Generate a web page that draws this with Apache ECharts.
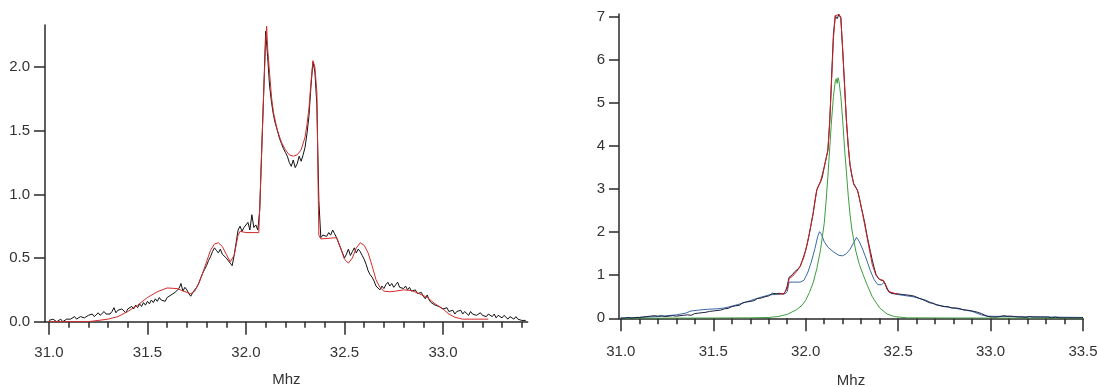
<!DOCTYPE html>
<html>
<head>
<meta charset="utf-8">
<script src="https://cdn.jsdelivr.net/npm/echarts@6/dist/echarts.min.js"></script>
<style>html,body{margin:0;padding:0;background:#fff}#c{width:1097px;height:387px}</style>
</head>
<body>
<div id="c"></div>
<script>
// ---- tick labels ----
const leftMajorTicks = [31.0, 31.5, 32.0, 32.5, 33.0];
const leftMinorTicks = [31.1,31.2,31.3,31.4,31.6,31.7,31.8,31.9,32.1,32.2,32.3,32.4,32.6,32.7,32.8,32.9,33.1,33.2,33.3,33.4];
const leftYTicks = [0, 0.5, 1.0, 1.5, 2.0];
const rightMajorTicks = [31.0, 31.5, 32.0, 32.5, 33.0, 33.5];
const rightMinorTicks = [31.1,31.2,31.3,31.4,31.6,31.7,31.8,31.9,32.1,32.2,32.3,32.4,32.6,32.7,32.8,32.9,33.1,33.2,33.3,33.4];
const rightYTicks = [0, 1, 2, 3, 4, 5, 6, 7];

// ---- left panel: measured spectrum (black) ----
const leftMeasured = [
[31.00,0.01],[31.01,0.00],[31.02,0.02],[31.03,0.01],[31.04,0.00],[31.05,0.01],[31.06,0.02],[31.07,0.00],[31.08,0.01],[31.09,0.02],
[31.10,0.03],[31.11,0.02],[31.12,0.03],[31.13,0.04],[31.14,0.02],[31.15,0.03],[31.16,0.04],[31.17,0.05],[31.18,0.03],[31.19,0.04],
[31.20,0.05],[31.21,0.04],[31.22,0.06],[31.23,0.04],[31.24,0.05],[31.25,0.07],[31.26,0.05],[31.27,0.06],[31.28,0.08],[31.29,0.06],
[31.30,0.07],[31.31,0.06],[31.32,0.08],[31.33,0.11],[31.34,0.07],[31.35,0.09],[31.36,0.08],[31.37,0.10],[31.38,0.09],[31.39,0.07],
[31.40,0.10],[31.41,0.09],[31.42,0.12],[31.43,0.10],[31.44,0.13],[31.45,0.11],[31.46,0.14],[31.47,0.12],[31.48,0.15],[31.49,0.13],
[31.50,0.16],[31.51,0.14],[31.52,0.17],[31.53,0.15],[31.54,0.18],[31.55,0.16],[31.56,0.19],[31.57,0.17],[31.58,0.18],[31.59,0.16],
[31.60,0.19],[31.61,0.18],[31.62,0.21],[31.63,0.20],[31.64,0.23],[31.65,0.22],[31.66,0.26],[31.67,0.30],[31.68,0.24],[31.69,0.27],
[31.70,0.25],[31.71,0.22],[31.72,0.20],[31.73,0.23],[31.74,0.22],[31.75,0.27],[31.76,0.30],[31.77,0.34],[31.78,0.38],[31.79,0.41],
[31.80,0.44],[31.81,0.48],[31.82,0.51],[31.83,0.55],[31.84,0.58],[31.85,0.56],[31.86,0.54],[31.87,0.57],[31.88,0.53],[31.89,0.52],
[31.90,0.50],[31.91,0.48],[31.92,0.46],[31.93,0.44],[31.94,0.52],[31.95,0.62],[31.96,0.72],[31.97,0.75],[31.98,0.71],[31.99,0.74],
[32.00,0.73],[32.01,0.78],[32.02,0.72],[32.03,0.84],[32.04,0.74],[32.05,0.76],[32.06,0.72],[32.07,0.88],[32.08,1.35],[32.09,1.80],
[32.10,2.28],[32.11,2.08],[32.12,1.85],[32.13,1.72],[32.14,1.62],[32.15,1.55],[32.16,1.50],[32.17,1.44],[32.18,1.40],[32.19,1.36],
[32.20,1.33],[32.21,1.30],[32.22,1.25],[32.23,1.22],[32.24,1.27],[32.25,1.21],[32.26,1.24],[32.27,1.30],[32.28,1.26],[32.29,1.31],
[32.30,1.37],[32.31,1.48],[32.32,1.62],[32.33,1.85],[32.34,2.04],[32.35,1.96],[32.36,1.70],[32.37,0.95],[32.38,0.66],[32.39,0.68],
[32.40,0.69],[32.41,0.67],[32.42,0.70],[32.43,0.68],[32.44,0.72],[32.45,0.69],[32.46,0.66],[32.47,0.62],[32.48,0.58],[32.49,0.54],
[32.50,0.50],[32.51,0.53],[32.52,0.57],[32.53,0.52],[32.54,0.55],[32.55,0.58],[32.56,0.54],[32.57,0.57],[32.58,0.55],[32.59,0.52],
[32.60,0.49],[32.61,0.45],[32.62,0.40],[32.63,0.37],[32.64,0.35],[32.65,0.32],[32.66,0.28],[32.67,0.27],[32.68,0.25],[32.69,0.28],
[32.70,0.26],[32.71,0.29],[32.72,0.31],[32.73,0.28],[32.74,0.30],[32.75,0.27],[32.76,0.29],[32.77,0.31],[32.78,0.27],[32.79,0.28],
[32.80,0.26],[32.81,0.28],[32.82,0.25],[32.83,0.27],[32.84,0.24],[32.85,0.23],[32.86,0.25],[32.87,0.22],[32.88,0.21],[32.89,0.23],
[32.90,0.20],[32.91,0.18],[32.92,0.21],[32.93,0.17],[32.94,0.15],[32.95,0.16],[32.96,0.13],[32.97,0.14],[32.98,0.12],[32.99,0.11],
[33.00,0.10],[33.01,0.09],[33.02,0.11],[33.03,0.08],[33.04,0.07],[33.05,0.09],[33.06,0.06],[33.07,0.08],[33.08,0.07],[33.09,0.09],
[33.10,0.06],[33.11,0.08],[33.12,0.07],[33.13,0.05],[33.14,0.08],[33.15,0.06],[33.16,0.07],[33.17,0.05],[33.18,0.06],[33.19,0.07],
[33.20,0.05],[33.21,0.06],[33.22,0.04],[33.23,0.06],[33.24,0.05],[33.25,0.04],[33.26,0.06],[33.27,0.03],[33.28,0.05],[33.29,0.04],
[33.30,0.03],[33.31,0.05],[33.32,0.04],[33.33,0.02],[33.34,0.04],[33.35,0.03],[33.36,0.02],[33.37,0.04],[33.38,0.02],[33.39,0.03],
[33.40,0.01],[33.41,0.02],[33.42,0.01]
];

// ---- left panel: simulated fit (red) ----
const leftFit = [
[31.00,0.00],[31.20,0.00],[31.25,0.01],[31.30,0.02],[31.35,0.04],[31.40,0.08],[31.45,0.13],[31.50,0.19],[31.55,0.235],[31.60,0.265],
[31.65,0.26],[31.70,0.23],[31.72,0.22],[31.74,0.24],[31.76,0.30],[31.78,0.38],[31.80,0.47],[31.82,0.56],[31.84,0.61],[31.86,0.62],
[31.88,0.59],[31.90,0.53],[31.92,0.47],[31.93,0.46],[31.94,0.52],[31.96,0.68],[31.97,0.71],[32.00,0.70],[32.065,0.70],[32.07,0.90],
[32.08,1.35],[32.09,1.80],[32.10,2.20],[32.105,2.32],[32.11,2.15],[32.12,1.95],[32.13,1.76],[32.14,1.64],[32.16,1.50],[32.18,1.41],
[32.20,1.35],[32.22,1.31],[32.24,1.30],[32.26,1.31],[32.28,1.35],[32.30,1.45],[32.31,1.55],[32.32,1.68],[32.33,1.88],[32.34,2.05],
[32.35,2.00],[32.36,1.80],[32.365,1.20],[32.37,0.68],[32.38,0.65],[32.46,0.66],[32.48,0.58],[32.50,0.49],[32.52,0.46],[32.54,0.50],
[32.56,0.58],[32.58,0.62],[32.60,0.60],[32.62,0.54],[32.64,0.44],[32.66,0.33],[32.68,0.27],[32.70,0.24],[32.73,0.235],[32.76,0.24],
[32.80,0.25],[32.84,0.245],[32.88,0.22],[32.92,0.19],[32.96,0.14],[33.00,0.10],[33.03,0.06],[33.06,0.035],[33.10,0.02],[33.23,0.02]
];

// ---- right panel: measured spectrum (dark) ----
const rightMeasured = [
[31.00,0.00],[31.01,0.01],[31.02,0.00],[31.03,0.01],[31.04,0.02],[31.05,0.01],[31.06,0.00],[31.07,0.01],[31.08,0.02],[31.09,0.01],
[31.10,0.02],[31.11,0.01],[31.12,0.03],[31.13,0.02],[31.14,0.04],[31.15,0.03],[31.16,0.05],[31.17,0.04],[31.18,0.06],[31.19,0.04],
[31.20,0.05],[31.21,0.04],[31.22,0.06],[31.23,0.05],[31.24,0.04],[31.25,0.06],[31.26,0.05],[31.27,0.04],[31.28,0.06],[31.29,0.05],
[31.30,0.05],[31.31,0.04],[31.32,0.06],[31.33,0.05],[31.34,0.07],[31.35,0.06],[31.36,0.08],[31.37,0.09],[31.38,0.07],[31.39,0.10],
[31.40,0.11],[31.41,0.09],[31.42,0.12],[31.43,0.11],[31.44,0.13],[31.45,0.12],[31.46,0.14],[31.47,0.13],[31.48,0.16],[31.49,0.15],
[31.50,0.17],[31.51,0.16],[31.52,0.18],[31.53,0.20],[31.54,0.19],[31.55,0.21],[31.56,0.22],[31.57,0.24],[31.58,0.23],[31.59,0.25],
[31.60,0.27],[31.61,0.26],[31.62,0.29],[31.63,0.31],[31.64,0.30],[31.65,0.33],[31.66,0.36],[31.67,0.35],[31.68,0.38],[31.69,0.40],
[31.70,0.39],[31.71,0.42],[31.72,0.41],[31.73,0.44],[31.74,0.46],[31.75,0.49],[31.76,0.47],[31.77,0.51],[31.78,0.50],[31.79,0.54],
[31.80,0.52],[31.81,0.56],[31.82,0.58],[31.83,0.60],[31.84,0.57],[31.85,0.55],[31.86,0.58],[31.87,0.54],[31.88,0.56],[31.89,0.62],
[31.90,0.75],[31.91,0.95],[31.92,0.98],[31.93,1.02],[31.94,1.08],[31.95,1.12],[31.96,1.15],[31.97,1.21],[31.98,1.32],[31.99,1.45],
[32.00,1.58],[32.01,1.76],[32.02,1.97],[32.03,2.20],[32.04,2.43],[32.05,2.72],[32.06,2.98],[32.07,3.08],[32.08,3.16],[32.09,3.28],
[32.10,3.51],[32.11,3.70],[32.12,3.90],[32.13,4.55],[32.14,5.60],[32.15,6.60],[32.16,7.02],[32.17,6.95],[32.18,7.05],[32.19,6.98],
[32.20,6.22],[32.21,5.45],[32.22,4.60],[32.23,4.00],[32.24,3.55],[32.25,3.30],[32.26,3.12],[32.27,3.05],[32.28,2.97],[32.29,2.80],
[32.30,2.58],[32.31,2.40],[32.32,2.20],[32.33,1.96],[32.34,1.75],[32.35,1.55],[32.36,1.35],[32.37,1.18],[32.38,1.02],[32.39,0.95],
[32.40,0.90],[32.41,0.88],[32.42,0.87],[32.43,0.80],[32.44,0.68],[32.45,0.61],[32.46,0.59],[32.47,0.58],[32.48,0.56],[32.49,0.57],
[32.50,0.55],[32.51,0.56],[32.52,0.54],[32.53,0.55],[32.54,0.53],[32.55,0.54],[32.56,0.52],[32.57,0.53],[32.58,0.50],[32.59,0.51],
[32.60,0.49],[32.61,0.47],[32.62,0.45],[32.63,0.44],[32.64,0.42],[32.65,0.40],[32.66,0.38],[32.67,0.36],[32.68,0.34],[32.69,0.35],
[32.70,0.32],[32.71,0.31],[32.72,0.30],[32.73,0.29],[32.74,0.28],[32.75,0.27],[32.76,0.26],[32.77,0.27],[32.78,0.25],[32.79,0.24],
[32.80,0.23],[32.81,0.24],[32.82,0.22],[32.83,0.23],[32.84,0.21],[32.85,0.20],[32.86,0.21],[32.87,0.19],[32.88,0.20],[32.89,0.18],
[32.90,0.17],[32.91,0.16],[32.92,0.15],[32.93,0.14],[32.94,0.12],[32.95,0.11],[32.96,0.09],[32.97,0.07],[32.98,0.06],[32.99,0.04],
[33.00,0.04],[33.01,0.03],[33.02,0.04],[33.03,0.03],[33.04,0.05],[33.05,0.04],[33.06,0.05],[33.07,0.06],[33.08,0.04],[33.09,0.05],
[33.10,0.04],[33.11,0.05],[33.12,0.03],[33.13,0.04],[33.14,0.05],[33.15,0.03],[33.16,0.04],[33.17,0.03],[33.18,0.04],[33.19,0.02],
[33.20,0.03],[33.21,0.04],[33.22,0.02],[33.23,0.03],[33.24,0.02],[33.25,0.03],[33.26,0.02],[33.27,0.03],[33.28,0.02],[33.29,0.03],
[33.30,0.02],[33.31,0.03],[33.32,0.02],[33.33,0.01],[33.34,0.02],[33.35,0.03],[33.36,0.02],[33.37,0.01],[33.38,0.02],[33.39,0.01],
[33.40,0.02],[33.41,0.01],[33.42,0.02],[33.43,0.01],[33.44,0.02],[33.45,0.01],[33.46,0.02],[33.47,0.01],[33.48,0.02],[33.49,0.01],
[33.50,0.02]
];

// ---- right panel: total fit (red) ----
const rightFit = [
[31.85,0.56],[31.88,0.57],[31.90,0.68],[31.91,0.92],[31.93,0.98],[31.95,1.08],[31.97,1.20],[31.99,1.42],[32.00,1.58],[32.02,1.97],
[32.04,2.43],[32.06,2.98],[32.08,3.18],[32.10,3.50],[32.12,3.90],[32.13,4.60],[32.14,5.50],[32.15,6.50],[32.16,7.02],[32.17,7.00],
[32.18,7.05],[32.19,6.95],[32.20,6.25],[32.21,5.40],[32.22,4.60],[32.23,4.00],[32.24,3.55],[32.26,3.10],[32.28,2.97],[32.30,2.60],
[32.32,2.15],[32.34,1.70],[32.36,1.25],[32.38,1.00],[32.40,0.90],[32.42,0.88],[32.43,0.84],[32.45,0.62],[32.48,0.58],[32.50,0.56]
];

// ---- right panel: broad component (blue) ----
const rightBroad = [
[31.00,0.01],[31.10,0.02],[31.20,0.04],[31.30,0.08],[31.35,0.12],[31.38,0.17],[31.42,0.19],[31.47,0.21],[31.52,0.22],[31.56,0.24],
[31.60,0.28],[31.65,0.34],[31.70,0.41],[31.75,0.48],[31.80,0.54],[31.85,0.56],[31.89,0.57],[31.90,0.62],[31.91,0.84],[31.97,0.84],
[31.99,0.88],[32.01,1.05],[32.03,1.30],[32.05,1.62],[32.065,1.90],[32.075,2.01],[32.085,1.95],[32.10,1.78],[32.12,1.65],[32.15,1.54],
[32.18,1.46],[32.20,1.45],[32.22,1.50],[32.24,1.60],[32.26,1.76],[32.275,1.88],[32.29,1.78],[32.31,1.58],[32.33,1.35],[32.35,1.10],
[32.37,0.90],[32.39,0.78],[32.41,0.78],[32.425,0.84],[32.44,0.68],[32.46,0.58],[32.50,0.55],[32.58,0.50],[32.65,0.42],[32.70,0.32],
[32.78,0.25],[32.85,0.20],[32.90,0.16],[32.95,0.08],[32.98,0.05],[33.10,0.04],[33.30,0.03],[33.50,0.02]
];

// ---- right panel: narrow component (green) ----
const rightNarrow = [
[31.00,0.00],[31.70,0.01],[31.80,0.02],[31.85,0.04],[31.90,0.09],[31.95,0.20],[31.98,0.30],[32.00,0.42],[32.02,0.60],[32.04,0.82],
[32.06,1.15],[32.08,1.58],[32.10,2.20],[32.11,2.70],[32.12,3.30],[32.13,3.95],[32.14,4.60],[32.15,5.15],[32.16,5.50],[32.165,5.56],
[32.17,5.45],[32.175,5.58],[32.18,5.50],[32.19,5.15],[32.20,4.60],[32.21,3.95],[32.22,3.40],[32.23,2.85],[32.24,2.40],[32.25,2.05],
[32.27,1.58],[32.29,1.25],[32.31,1.02],[32.33,0.80],[32.36,0.50],[32.40,0.24],[32.44,0.10],[32.48,0.04],[32.55,0.01],[33.50,0.00]
];

const FONT = "'Liberation Sans', Arial, sans-serif";
const AX = '#2a2a2a';
const labelStyle = {color: '#333', fontFamily: FONT, fontSize: 15};

function majorX(grid, min, max, ticks, margin, gap) {
  return {
    type: 'value', gridIndex: grid, min: min, max: max, position: 'bottom',
    name: 'Mhz', nameLocation: 'middle', nameGap: gap,
    nameTextStyle: labelStyle,
    axisLine: {show: true, onZero: false, lineStyle: {color: AX, width: 1.5}},
    axisTick: {show: true, customValues: ticks, length: 13, lineStyle: {color: AX, width: 1.5}},
    axisLabel: Object.assign({customValues: ticks, margin: margin, formatter: v => Number(v).toFixed(1)}, labelStyle),
    splitLine: {show: false}
  };
}
function minorX(grid, min, max, ticks) {
  return {
    type: 'value', gridIndex: grid, min: min, max: max, position: 'bottom', offset: 0,
    axisLine: {show: false, onZero: false},
    axisTick: {show: true, inside: false, customValues: ticks, length: 6, lineStyle: {color: AX, width: 1.5}},
    axisLabel: {show: false},
    splitLine: {show: false}
  };
}
function yAx(grid, max, ticks, tlen, margin, fmt) {
  return {
    type: 'value', gridIndex: grid, min: 0, max: max, position: 'left',
    axisLine: {show: true, onZero: false, lineStyle: {color: AX, width: 1.5}},
    axisTick: {show: true, customValues: ticks, length: tlen, lineStyle: {color: AX, width: 1.5}},
    axisLabel: Object.assign({customValues: ticks, margin: margin, formatter: fmt}, labelStyle),
    splitLine: {show: false}
  };
}
function line(data, xi, yi, color, z) {
  return {type: 'line', xAxisIndex: xi, yAxisIndex: yi, data: data, symbol: 'none',
    lineStyle: {color: color, width: 1}, z: z, silent: true};
}

const chart = echarts.init(document.getElementById('c'), null, {renderer: 'canvas'});
chart.setOption({
  animation: false,
  backgroundColor: '#fff',
  grid: [
    {left: 45, top: 25, width: 482.7, height: 296.7, containLabel: false, outerBoundsMode: 'none'},
    {left: 619, top: 14, width: 464, height: 304.3, containLabel: false, outerBoundsMode: 'none'}
  ],
  xAxis: [
    majorX(0, 30.98, 33.43, leftMajorTicks, 24, 51),
    minorX(0, 30.98, 33.43, leftMinorTicks),
    majorX(1, 30.99, 33.5, rightMajorTicks, 26, 55),
    minorX(1, 30.99, 33.5, rightMinorTicks)
  ],
  yAxis: [
    yAx(0, 2.33, leftYTicks, 11, 15, v => Number(v).toFixed(1)),
    yAx(1, 7.06, rightYTicks, 10, 14, v => String(Math.round(v)))
  ],
  series: [
    line(leftMeasured, 0, 0, '#111111', 2),
    line(leftFit, 0, 0, '#d42a2a', 3),
    line(rightBroad, 2, 1, '#3a6aa6', 2),
    line(rightNarrow, 2, 1, '#3c9e3c', 2),
    line(rightMeasured, 2, 1, '#1c1c3c', 3),
    line(rightFit, 2, 1, '#d42020', 4)
  ]
});
</script>
</body>
</html>
